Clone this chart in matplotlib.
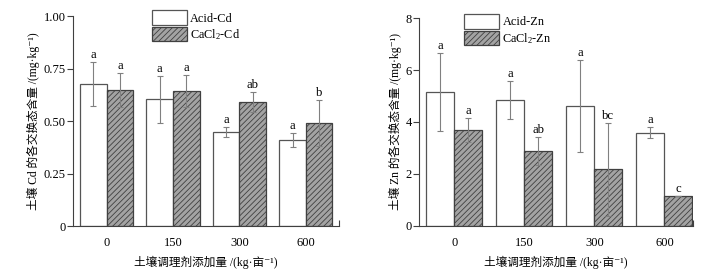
import matplotlib
matplotlib.use("Agg")
import matplotlib.pyplot as plt
import numpy as np

plt.rcParams['font.family'] = ['Liberation Serif', 'Noto Sans CJK SC', 'DejaVu Sans']
plt.rcParams['mathtext.fontset'] = 'custom'
plt.rcParams['mathtext.rm'] = 'Liberation Serif'
plt.rcParams['mathtext.it'] = 'Liberation Serif:italic'
plt.rcParams['hatch.linewidth'] = 0.6
plt.rcParams['hatch.color'] = '#505050'
plt.rcParams['axes.unicode_minus'] = False

doses = ['0', '150', '300', '600']

acid_cd = [0.675, 0.603, 0.446, 0.408]
acid_cd_err = [0.105, 0.110, 0.024, 0.033]
cacl_cd = [0.648, 0.643, 0.589, 0.490]
cacl_cd_err = [0.080, 0.076, 0.048, 0.110]
acid_cd_sig = ['a', 'a', 'a', 'a']
cacl_cd_sig = ['a', 'a', 'ab', 'b']

acid_zn = [5.16, 4.85, 4.62, 3.59]
acid_zn_err = [1.49, 0.73, 1.77, 0.20]
cacl_zn = [3.68, 2.87, 2.17, 1.13]
cacl_zn_err = [0.47, 0.54, 1.79, 0.0]
acid_zn_sig = ['a', 'a', 'a', 'a']
cacl_zn_sig = ['a', 'ab', 'bc', 'c']

fig = plt.figure(figsize=(7.08, 2.72), dpi=100)
ax1 = fig.add_axes([0.1036, 0.169, 0.3754, 0.772])
ax2 = fig.add_axes([0.5922, 0.170, 0.3868, 0.763])

w = 0.4
edge = '#404040'
ecol = '#808080'
fs = 8.6
lfs = 8.4


def panel(ax, acid, acid_err, cacl, cacl_err, s1, s2, ylim, yticks, ylabels,
          ylab, names, xright, off, legpos):
    x = np.arange(len(doses))
    ax.bar(x - w / 2, acid, w, color='white', edgecolor='#555555', linewidth=0.9,
           label=names[0], zorder=2)
    ax.bar(x + w / 2, cacl, w, color='#a3a3a3', edgecolor=edge, linewidth=0.9,
           hatch='//////', label=names[1], zorder=2)
    ax.errorbar(x - w / 2, acid, yerr=acid_err, fmt='none', ecolor=ecol,
                elinewidth=0.8, capsize=2.5, capthick=0.8, zorder=3)
    ax.errorbar(x + w / 2, cacl, yerr=cacl_err, fmt='none', ecolor=ecol,
                elinewidth=0.8, capsize=2.5, capthick=0.8, zorder=3)
    for i in range(len(doses)):
        ax.text(x[i] - w / 2, acid[i] + acid_err[i] + off, s1[i], ha='center',
                va='bottom', fontsize=fs + 0.6)
        ax.text(x[i] + w / 2, cacl[i] + cacl_err[i] + off, s2[i], ha='center',
                va='bottom', fontsize=fs + 0.6)
    ax.set_xlim(-0.5, xright)
    ax.set_ylim(*ylim)
    ax.set_xticks(x)
    ax.set_xticklabels(doses, fontsize=fs + 0.4)
    ax.set_yticks(yticks)
    ax.set_yticklabels(ylabels, fontsize=fs + 0.4)
    ax.tick_params(axis='x', length=0, pad=8)
    ax.tick_params(axis='y', direction='out', length=4, width=0.8, color='#404040', pad=1.5)
    ax.set_xticks([xright], minor=True)
    ax.tick_params(axis='x', which='minor', direction='in', length=4, width=0.8, color='#404040')
    for s in ['top', 'right']:
        ax.spines[s].set_visible(False)
    for s in ['left', 'bottom']:
        ax.spines[s].set_color('#404040')
        ax.spines[s].set_linewidth(0.8)
    ax.set_ylabel(ylab, fontsize=lfs, labelpad=2.5)
    ax.set_xlabel('土壤调理剂添加量 /(kg·亩⁻¹)', fontsize=lfs, labelpad=5)
    ax.legend(loc='upper left', bbox_to_anchor=legpos, frameon=False,
              fontsize=fs + 0.2, handlelength=2.85, handleheight=1.42,
              handletextpad=0.3, labelspacing=0.2, borderaxespad=0,
              borderpad=0)


panel(ax1, acid_cd, acid_cd_err, cacl_cd, cacl_cd_err, acid_cd_sig, cacl_cd_sig,
      (0, 1.0), [0, 0.25, 0.5, 0.75, 1.0], ['0', '0.25', '0.50', '0.75', '1.00'],
      '土壤 Cd 的各交换态含量 /(mg·kg⁻¹)', ['Acid-Cd', 'CaCl$_2$-Cd'], 3.5,
      0.005, (0.295, 1.027))
panel(ax2, acid_zn, acid_zn_err, cacl_zn, cacl_zn_err, acid_zn_sig, cacl_zn_sig,
      (0, 8), [0, 2, 4, 6, 8], ['0', '2', '4', '6', '8'],
      '土壤 Zn 的各交换态含量 /(mg·kg⁻¹)', ['Acid-Zn', 'CaCl$_2$-Zn'], 3.41,
      0.04, (0.163, 1.019))

fig.savefig('out.png', dpi=100)
